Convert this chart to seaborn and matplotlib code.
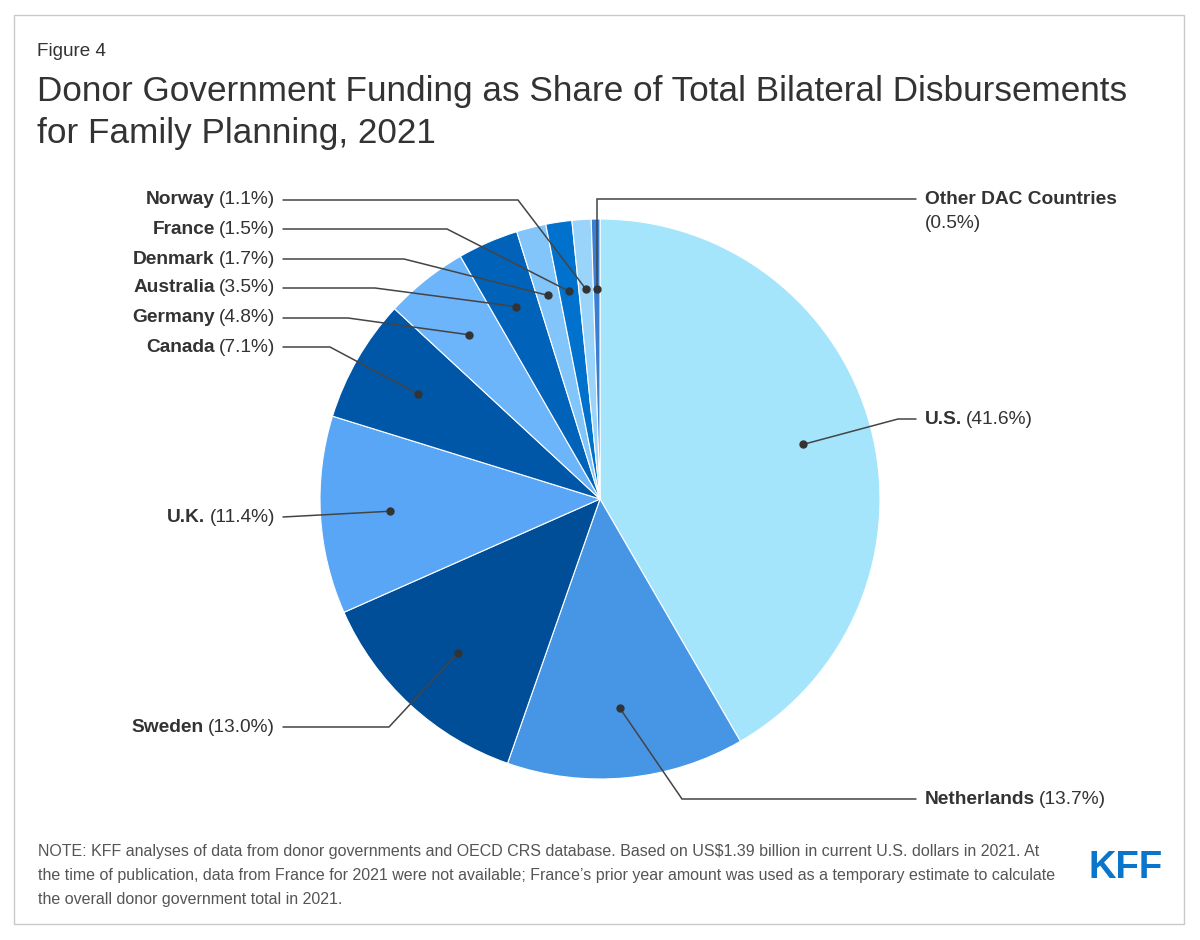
import matplotlib
matplotlib.use("Agg")
import matplotlib.pyplot as plt
from matplotlib import font_manager
from matplotlib.patches import Rectangle
import seaborn as sns
import numpy as np

# ---------------- data ----------------
countries = ["U.S.", "Netherlands", "Sweden", "U.K.", "Canada", "Germany",
             "Australia", "Denmark", "France", "Norway", "Other DAC Countries"]
shares = [41.6, 13.7, 13.0, 11.4, 7.1, 4.8, 3.5, 1.7, 1.5, 1.1, 0.5]
colors = ["#a4e5fc", "#4796e6", "#004d98", "#5aa6f6", "#0057a8", "#6cb5fb",
          "#0063b9", "#82c5fb", "#0072cd", "#9bd4fb", "#3a7fd2"]

title_small = "Figure 4"
title_lines = ["Donor Government Funding as Share of Total Bilateral Disbursements",
               "for Family Planning, 2021"]
note_lines = [
    "NOTE: KFF analyses of data from donor governments and OECD CRS database. Based on US$1.39 billion in current U.S. dollars in 2021. At",
    "the time of publication, data from France for 2021 were not available; France\u2019s prior year amount was used as a temporary estimate to calculate",
    "the overall donor government total in 2021.",
]

# label layout (pixel rows from top, side, elbow x)
label_layout = {
    "Norway": ("left", 200, 518),
    "France": ("left", 229, 447),
    "Denmark": ("left", 259, 404),
    "Australia": ("left", 288, 375),
    "Germany": ("left", 318, 348),
    "Canada": ("left", 347, 330),
    "U.K.": ("left", 517, 283),
    "Sweden": ("left", 727, 389),
    "U.S.": ("right", 419, 898),
    "Netherlands": ("right", 799, 682),
    "Other DAC Countries": ("right", 199, None),
}

# ---------------- style ----------------
sns.set_theme(style="white")
plt.rcParams["font.family"] = ["Liberation Sans", "DejaVu Sans"]

W, H = 1200, 940
fig = plt.figure(figsize=(12, 9.4), dpi=100)
fig.patch.set_facecolor("white")
ax = fig.add_axes([0, 0, 1, 1])

def Y(py):
    return H - py

CX, CY, R = 600, Y(499), 280
wedges, _ = ax.pie(shares, colors=colors, startangle=90, counterclock=False,
                   center=(CX, CY), radius=R, frame=True,
                   wedgeprops=dict(edgecolor="white", linewidth=0.8))
ax.set_xlim(0, W)
ax.set_ylim(0, H)
ax.set_aspect("auto")
ax.axis("off")

# border
ax.add_patch(Rectangle((14, Y(924)), 1184 - 14, 924 - 15, fill=False,
                       edgecolor="#c9c9c9", linewidth=1.0, zorder=0))

TXT = "#333333"
LINE = "#444444"
LFS = 13.8

fig.canvas.draw()
renderer = fig.canvas.get_renderer()

def text_width(t):
    bb = t.get_window_extent(renderer=renderer)
    return bb.width

for w, name, val in zip(wedges, countries, shares):
    mid = np.deg2rad((w.theta1 + w.theta2) / 2)
    dx = CX + 0.75 * R * np.cos(mid)
    dy = CY + 0.75 * R * np.sin(mid)
    side, py, ex = label_layout[name]
    pct = f"({val:.1f}%)"
    ly = Y(py)
    if side == "left":
        tp = ax.text(275, ly, pct, ha="right", va="center", fontsize=LFS, color=TXT)
        wpct = text_width(tp)
        ax.text(275 - wpct - 4, ly, name, ha="right", va="center", fontsize=LFS,
                color=TXT, fontweight="bold")
        xs = [283, ex, dx]
        ys = [ly, ly, dy]
    else:
        if name == "Other DAC Countries":
            ax.text(925, Y(200), name, ha="left", va="center", fontsize=LFS,
                    color=TXT, fontweight="bold")
            ax.text(925, Y(224), pct, ha="left", va="center", fontsize=LFS, color=TXT)
            xs = [916, dx, dx]
            ys = [ly, ly, dy]
        else:
            tn = ax.text(925, ly, name, ha="left", va="center", fontsize=LFS,
                         color=TXT, fontweight="bold")
            wn = text_width(tn)
            ax.text(925 + wn + 4, ly, pct, ha="left", va="center", fontsize=LFS, color=TXT)
            xs = [916, ex, dx]
            ys = [ly, ly, dy]
    ax.plot(xs, ys, color=LINE, linewidth=1.1, solid_joinstyle="miter", zorder=5)
    ax.plot([dx], [dy], "o", color="#333333", markersize=5, zorder=6)

# titles
ax.text(37, Y(56), title_small, ha="left", va="baseline", fontsize=13.6, color=TXT)
ax.text(37, Y(101), title_lines[0], ha="left", va="baseline", fontsize=25.3, color=TXT)
ax.text(37, Y(143), title_lines[1], ha="left", va="baseline", fontsize=25.3, color=TXT)

# note
for i, line in enumerate(note_lines):
    ax.text(38, Y(856 + 24 * i), line, ha="left", va="baseline", fontsize=11.55,
            color="#555555")

# KFF logo as text
names = {f.name for f in font_manager.fontManager.ttflist}
logo_family = "Liberation Sans Narrow" if "Liberation Sans Narrow" in names else "Liberation Sans"
ax.text(1126, Y(868), "KFF", ha="center", va="center", fontsize=27.5,
        fontweight="bold", color="#0a76cb", family=logo_family)

fig.savefig("out.png", dpi=100, facecolor="white")
